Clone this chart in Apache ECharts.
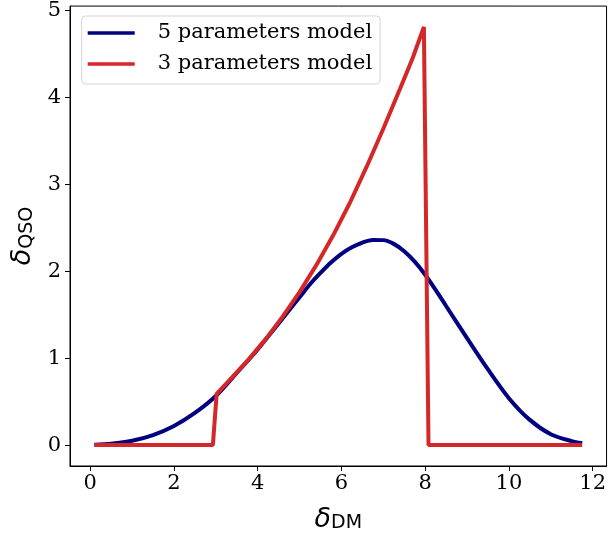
<!DOCTYPE html>
<html>
<head>
<meta charset="utf-8">
<script src="https://cdn.jsdelivr.net/npm/echarts@6/dist/echarts.min.js"></script>
<style>html,body{margin:0;padding:0;background:#fff;}#c{width:609px;height:538px;}</style>
</head>
<body>
<div id="c"></div>
<script>
// ---- data ----
const xTicks = [0, 2, 4, 6, 8, 10, 12];
const yTicks = [0, 1, 2, 3, 4, 5];

const blueName = '5 parameters model';
const blueX = [0.1, 0.5, 1.0, 1.5, 2.0, 2.5, 3.0, 3.5, 4.0, 4.5, 5.0, 5.25, 5.5, 5.75, 6.0, 6.25, 6.5, 6.75, 7.0, 7.25, 7.5, 7.75, 8.0, 8.25, 8.5, 9.0, 9.5, 10.0, 10.5, 11.0, 11.5, 11.75];
const blueY = [0.004, 0.016, 0.05, 0.115, 0.22, 0.37, 0.565, 0.83, 1.1, 1.4, 1.7, 1.85, 1.98, 2.1, 2.2, 2.275, 2.33, 2.36, 2.358, 2.315, 2.23, 2.11, 1.96, 1.785, 1.6, 1.23, 0.87, 0.54, 0.29, 0.125, 0.045, 0.022];

const redName = '3 parameters model';
const redX = [0.1, 2.93, 3.02, 3.4, 3.8, 4.2, 4.6, 5.0, 5.4, 5.8, 6.2, 6.6, 7.0, 7.4, 7.7, 7.97, 8.08, 11.75];
const redY = [0, 0, 0.59, 0.785, 0.995, 1.225, 1.48, 1.76, 2.07, 2.41, 2.785, 3.2, 3.64, 4.1, 4.45, 4.81, 0, 0];

const xRange = [-0.4825, 12.3325];
const yRange = [-0.2405, 5.0505];

const zip = (xs, ys) => xs.map((x, i) => [x, ys[i]]);

const chart = echarts.init(document.getElementById('c'), null, {renderer: 'canvas'});
const tickFont = {fontFamily: 'DejaVu Serif', fontSize: 21, color: '#000'};
const nameRich = {
  d: {fontFamily: 'DejaVu Sans', fontStyle: 'italic', fontSize: 27, color: '#000', lineHeight: 30, verticalAlign: 'bottom'},
  s: {fontFamily: 'DejaVu Sans', fontSize: 19, color: '#000', lineHeight: 14, verticalAlign: 'bottom'}
};
chart.setOption({
  animation: false,
  backgroundColor: '#fff',
  grid: {left: 70, right: 2, top: 6, bottom: 69, show: true, borderColor: '#000', borderWidth: 1, containLabel: false},
  xAxis: {
    type: 'value', min: xRange[0], max: xRange[1],
    axisLine: {show: true, onZero: false, lineStyle: {color: '#000', width: 1}},
    axisTick: {show: true, inside: false, length: 5, lineStyle: {color: '#000', width: 1}, customValues: xTicks},
    axisLabel: Object.assign({margin: 7, customValues: xTicks, formatter: v => String(v)}, tickFont),
    splitLine: {show: false},
    name: '{d|δ}{s|DM}', nameLocation: 'middle', nameGap: 37,
    nameTextStyle: {rich: nameRich}
  },
  yAxis: {
    type: 'value', min: yRange[0], max: yRange[1],
    axisLine: {show: true, onZero: false, lineStyle: {color: '#000', width: 1}},
    axisTick: {show: true, inside: false, length: 5, lineStyle: {color: '#000', width: 1}, customValues: yTicks},
    axisLabel: Object.assign({margin: 9, customValues: yTicks, formatter: v => String(v)}, tickFont),
    splitLine: {show: false},
    name: '{d|δ}{s|QSO}', nameLocation: 'middle', nameGap: 30, nameRotate: 90,
    nameTextStyle: {rich: nameRich}
  },
  legend: {
    orient: 'vertical', left: 81.7, top: 16,
    padding: [5, 8, 8, 6], itemGap: 7,
    itemWidth: 47, itemHeight: 3.5, icon: 'rect',
    borderColor: '#d6d6d6', borderWidth: 1, borderRadius: 4,
    backgroundColor: 'rgba(255,255,255,0.8)',
    textStyle: {fontFamily: 'DejaVu Serif', fontSize: 21, color: '#000', lineHeight: 24, padding: [0, 0, 0, 18]},
    data: [blueName, redName]
  },
  series: [
    {name: blueName, type: 'line', data: zip(blueX, blueY), smooth: 0.3, symbol: 'none',
     lineStyle: {color: '#000080', width: 4}, itemStyle: {color: '#000080'}, z: 2},
    {name: redName, type: 'line', data: zip(redX, redY), smooth: false, symbol: 'none',
     lineStyle: {color: '#d62728', width: 4}, itemStyle: {color: '#d62728'}, z: 3}
  ]
});
</script>
</body>
</html>
